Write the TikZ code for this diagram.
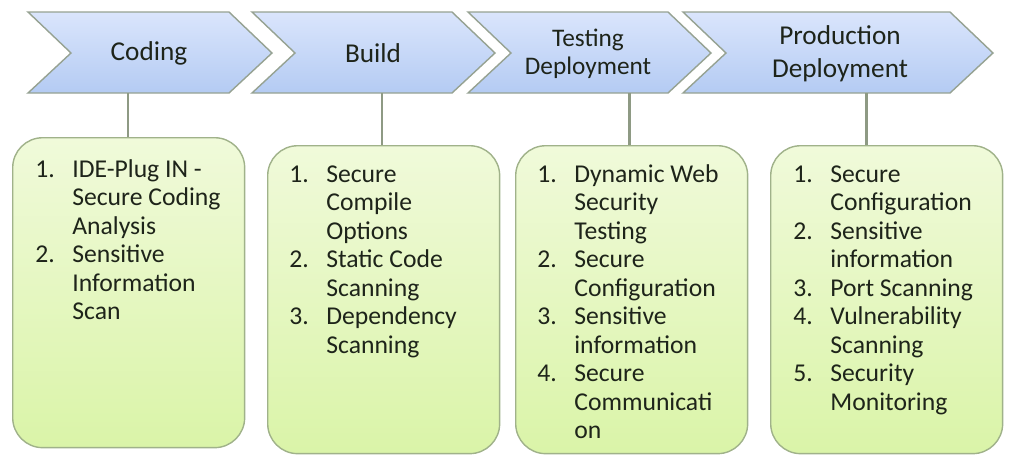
\documentclass[tikz,border=0pt]{standalone}
\usepackage{fontspec}
\setmainfont{Carlito}
\usepackage{tikz}
\usetikzlibrary{calc}
\definecolor{chevtop}{RGB}{218,229,252}
\definecolor{chevbot}{RGB}{180,203,243}
\definecolor{chevline}{RGB}{150,162,146}
\definecolor{boxtop}{RGB}{240,250,218}
\definecolor{boxbot}{RGB}{218,244,168}
\definecolor{boxline}{RGB}{160,178,138}
\definecolor{linkgray}{RGB}{142,154,132}
\definecolor{inkdark}{RGB}{30,36,26}
\newlength{\numw}
\setlength{\numw}{0.74cm}
\newcommand{\itm}[2]{\rule{0pt}{12pt}\makebox[\numw][l]{#1}#2}
\newcommand{\cnt}[1]{\rule{0pt}{12pt}\hspace*{\numw}#1}
\tikzset{
	chev/.style={draw=chevline, line width=0.8pt, top color=chevtop, bottom color=chevbot},
	head/.style={text=inkdark, align=center, inner sep=0pt, font=\fontsize{15.5}{18.7}\selectfont},
	stagebox/.style={draw=boxline, line width=0.8pt, rounded corners=0.6cm, top color=boxtop, bottom color=boxbot, minimum width=4.64cm, minimum height=6.16cm, anchor=north west},
	steps/.style={text=inkdark, align=left, inner sep=0pt, anchor=north west, font=\fontsize{14.6}{16.2}\selectfont},
	link/.style={draw=linkgray, line width=1.7pt}
}

\begin{document}
\begin{tikzpicture}[x=0.02cm, y=-0.02cm]
		%%%%% START %%%%%
		\useasboundingbox (0, 0) rectangle (1014, 461);
		
		% chevrons
		\foreach \xa/\xb in {28/229, 252/452, 468/668, 683/950}
			\draw[chev] (\xa, 12) -- (\xb, 12) -- (\xb+43, 53) -- (\xb, 93) -- (\xa, 93) -- (\xa+43, 53) -- cycle;
		
		\node[head] (hCod) at (149, 53) {Coding};
		\node[head] (hBld) at (373, 53) {Build};
		\node[head, font=\fontsize{14.4}{15.9}\selectfont] (hTst) at (588, 54) {Testing\\Deployment};
		\node[head] (hPrd) at (840, 54) {Production\\Deployment};
		
		\coordinate (kCod) at (128, 93);
		\coordinate (kBld) at (382, 93);
		\coordinate (kTst) at (629, 93);
		\coordinate (kPrd) at (866, 93);
		
		% boxes
		\node[stagebox, minimum height=6.2cm] (bCod) at (12, 137) {};
		\node[stagebox] (bBld) at (267, 145) {};
		\node[stagebox] (bTst) at (515, 145) {};
		\node[stagebox] (bPrd) at (770, 145) {};
		
		\draw[link] (kCod) -- (kCod |- bCod.north);
		\draw[link] (kBld) -- (kBld |- bBld.north);
		\draw[link] (kTst) -- (kTst |- bTst.north);
		\draw[link] (kPrd) -- (kPrd |- bPrd.north);
		
		\node[steps] (lCod) at (35, 156) {\itm{1.}{IDE-Plug IN -}\\\cnt{Secure Coding}\\\cnt{Analysis}\\\itm{2.}{Sensitive}\\\cnt{Information}\\\cnt{Scan}};
		\node[steps] (lBld) at (289, 161) {\itm{1.}{Secure}\\\cnt{Compile}\\\cnt{Options}\\\itm{2.}{Static Code}\\\cnt{Scanning}\\\itm{3.}{Dependency}\\\cnt{Scanning}};
		\node[steps] (lTst) at (537, 161) {\itm{1.}{Dynamic Web}\\\cnt{Security}\\\cnt{Testing}\\\itm{2.}{Secure}\\\cnt{Configuration}\\\itm{3.}{Sensitive}\\\cnt{information}\\\itm{4.}{Secure}\\\cnt{Communicati}\\\cnt{on}};
		\node[steps] (lPrd) at (793, 161) {\itm{1.}{Secure}\\\cnt{Configuration}\\\itm{2.}{Sensitive}\\\cnt{information}\\\itm{3.}{Port Scanning}\\\itm{4.}{Vulnerability}\\\cnt{Scanning}\\\itm{5.}{Security}\\\cnt{Monitoring}};
		
		%%%%% END %%%%%
	\end{tikzpicture}
\end{document}
